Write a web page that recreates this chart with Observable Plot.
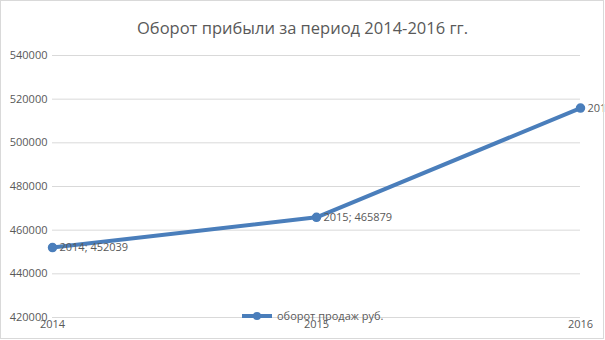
<!DOCTYPE html>
<html><head><meta charset="utf-8">
<script src="https://cdn.jsdelivr.net/npm/d3@7"></script>
<script src="https://cdn.jsdelivr.net/npm/@observablehq/plot@0.6"></script>
<style>
html,body{margin:0;padding:0;background:#fff;}
#chart{position:relative;width:605px;height:340px;}
</style></head>
<body><div id="chart"></div>
<script>
const titleText = "Оборот прибыли за период 2014-2016 гг.";
const seriesName = "оборот продаж руб.";
const years = [2014, 2015, 2016];
const values = [452039, 465879, 515911];
const yTicks = [420000, 440000, 460000, 480000, 500000, 520000, 540000];

const data = years.map((y, i) => ({year: y, value: values[i], label: `${y}; ${values[i]}`}));
const FONT = "'Open Sans', 'Noto Sans', sans-serif";
const BLUE = "#4a7ebb";
const GRAY = "#595959";

const plot = Plot.plot({
  width: 605, height: 340,
  marginLeft: 52, marginRight: 25, marginTop: 55, marginBottom: 23,
  style: {fontFamily: FONT, fontSize: "11px", color: GRAY, background: "#fff", overflow: "visible"},
  x: {domain: [2014, 2016], ticks: years, tickFormat: d => String(d), tickSize: 0, tickPadding: 4, label: null},
  y: {domain: [420000, 540000], ticks: yTicks, tickFormat: d => String(d), tickSize: 0, tickPadding: 5, label: null},
  marks: [
    Plot.gridY(yTicks, {stroke: "#d9d9d9", strokeOpacity: 1, x1: 2014, x2: 2016}),
    Plot.axisY({ticks: yTicks, tickFormat: d => String(d), tickSize: 0, tickPadding: 5, fill: GRAY, fontSize: 11}),
    Plot.axisX({ticks: years, tickFormat: d => String(d), tickSize: 0, tickPadding: 3, fill: GRAY, fontSize: 11, textAnchor: "middle"}),
    Plot.line(data, {x: "year", y: "value", stroke: BLUE, strokeWidth: 4, strokeLinecap: "round"}),
    Plot.dot(data, {x: "year", y: "value", r: 4, fill: BLUE, stroke: BLUE}),
    Plot.text(data, {x: "year", y: "value", text: "label", textAnchor: "start", dx: 7, fill: GRAY, fontSize: 11}),
    Plot.text([titleText], {frameAnchor: "top", dx: -14, dy: -33, fontSize: 16.5, fill: GRAY, text: d => d})
  ]
});
document.getElementById("chart").appendChild(plot);

// chart border and legend
const svg = d3.select(plot);
svg.append("rect").attr("x", 0.5).attr("y", 0.5).attr("width", 603).attr("height", 338)
  .attr("fill", "none").attr("stroke", "#d9d9d9");
const lg = svg.append("g").attr("transform", "translate(242,316)");
lg.append("line").attr("x1", 0).attr("x2", 30).attr("y1", 0).attr("y2", 0)
  .attr("stroke", BLUE).attr("stroke-width", 4);
lg.append("circle").attr("cx", 15).attr("cy", 0).attr("r", 4).attr("fill", BLUE);
lg.append("text").attr("x", 35).attr("y", 0).attr("dy", "0.32em").attr("text-anchor", "start")
  .attr("fill", GRAY).attr("font-size", 11).attr("font-family", FONT).text(seriesName);
</script>
</body></html>
